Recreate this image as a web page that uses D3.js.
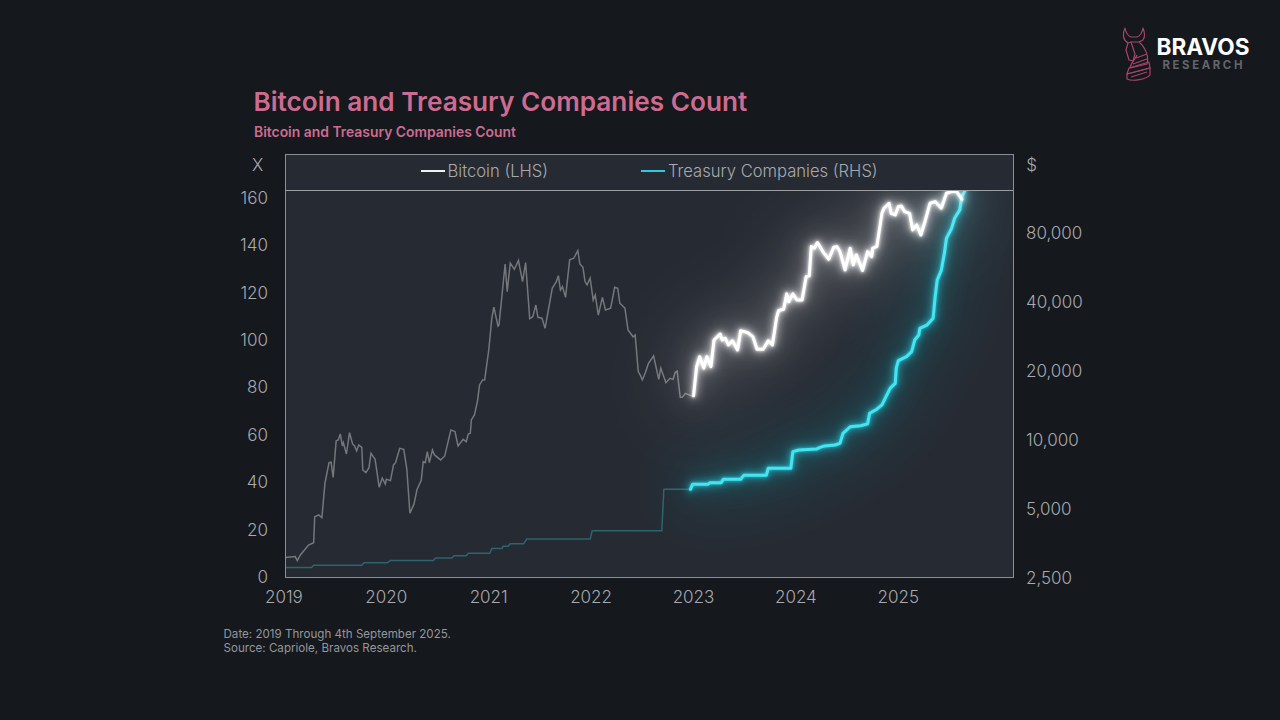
<!DOCTYPE html>
<html><head><meta charset="utf-8">
<script src="https://cdn.jsdelivr.net/npm/d3@7/dist/d3.min.js"></script>
<style>
html,body{margin:0;padding:0;background:#15181d;}
svg{display:block;}
text{font-family:Inter,"Noto Sans",sans-serif;}
</style></head><body>
<svg id="c" width="1280" height="720"></svg>
<script>
const titleText = "Bitcoin and Treasury Companies Count";
const subtitleText = "Bitcoin and Treasury Companies Count";
const footerLines = ["Date: 2019 Through 4th September 2025.", "Source: Capriole, Bravos Research."];
const legendNames = ["Bitcoin (LHS)", "Treasury Companies (RHS)"];
const yearTicks = [2019,2020,2021,2022,2023,2024,2025];
const leftTicks = [0,20,40,60,80,100,120,140,160];
const rightTicks = [2500,5000,10000,20000,40000,80000];
const highlightFrom = 2022.98;

const btcYears = [2019.00,2019.10,2019.12,2019.15,2019.23,2019.28,2019.29,2019.33,2019.36,2019.39,2019.43,2019.45,2019.47,2019.50,2019.52,2019.54,2019.56,2019.57,2019.60,2019.63,2019.66,2019.68,2019.70,2019.72,2019.75,2019.76,2019.79,2019.82,2019.84,2019.88,2019.92,2019.95,2019.98,2019.99,2020.03,2020.06,2020.08,2020.12,2020.16,2020.19,2020.22,2020.26,2020.29,2020.33,2020.35,2020.37,2020.39,2020.41,2020.44,2020.46,2020.52,2020.56,2020.62,2020.66,2020.69,2020.74,2020.77,2020.79,2020.81,2020.82,2020.85,2020.88,2020.90,2020.93,2020.95,2020.99,2021.02,2021.04,2021.08,2021.09,2021.15,2021.17,2021.20,2021.24,2021.28,2021.32,2021.35,2021.39,2021.42,2021.45,2021.47,2021.51,2021.54,2021.61,2021.65,2021.67,2021.69,2021.71,2021.74,2021.78,2021.82,2021.86,2021.88,2021.91,2021.93,2021.95,2021.98,2022.01,2022.03,2022.06,2022.10,2022.13,2022.18,2022.22,2022.25,2022.27,2022.32,2022.35,2022.40,2022.42,2022.45,2022.47,2022.49,2022.52,2022.55,2022.60,2022.65,2022.67,2022.72,2022.76,2022.79,2022.81,2022.83,2022.86,2022.88,2022.91,2022.97,2022.99,2023.02,2023.05,2023.09,2023.12,2023.16,2023.19,2023.25,2023.27,2023.30,2023.33,2023.37,2023.42,2023.45,2023.52,2023.57,2023.61,2023.67,2023.72,2023.76,2023.80,2023.82,2023.87,2023.90,2023.92,2023.96,2024.00,2024.05,2024.09,2024.12,2024.14,2024.17,2024.20,2024.26,2024.31,2024.36,2024.39,2024.42,2024.47,2024.52,2024.55,2024.58,2024.64,2024.69,2024.73,2024.74,2024.78,2024.83,2024.85,2024.90,2024.92,2024.96,2024.99,2025.02,2025.05,2025.10,2025.13,2025.17,2025.21,2025.25,2025.30,2025.35,2025.41,2025.46,2025.51,2025.56,2025.61];
const btcPrices = [3040,3070,2950,3120,3450,3530,4590,4670,4540,6420,7910,7950,6820,9870,9940,10560,9360,9680,8630,10700,9550,9360,8900,9460,9230,7350,7150,7520,8690,8180,6170,6760,6380,6690,6600,7730,7910,9140,9050,7400,4750,5220,6050,6600,7990,7910,8830,7910,8990,8550,8130,8460,11000,10810,9360,10000,9770,10560,10630,12160,12790,14720,17300,18200,18200,24600,33900,37900,31300,31700,58500,44300,59000,55500,60600,49000,59300,33700,34400,38700,34200,33900,30600,45800,49000,52000,45000,46600,41800,61000,62000,67000,58500,56600,49000,47400,50700,40700,42800,35000,41800,36800,37500,46300,45800,39400,37500,30100,28100,28600,19800,19100,18200,19600,21500,23200,18300,20500,17700,18500,18300,19600,19900,15300,15300,15900,15500,15500,20800,23000,20500,23000,20800,27200,28900,27200,27700,25900,27000,24600,29900,29300,28100,24800,24800,27000,25900,33900,36600,37100,43300,40000,43300,40700,40700,51500,51900,69700,68600,72600,65600,61400,69300,69700,66300,55100,68600,58000,64100,54800,66300,63000,68600,69700,97500,102600,107900,97500,95900,104300,105000,99200,97500,82500,86700,78400,89700,107900,109700,102600,119300,121300,121300,112300];

const tcYears = [2019.01,2019.26,2019.28,2019.75,2019.77,2020.00,2020.03,2020.45,2020.47,2020.63,2020.65,2020.77,2020.79,2021.00,2021.02,2021.12,2021.13,2021.18,2021.20,2021.33,2021.36,2021.98,2022.00,2022.68,2022.70,2022.96,2022.98,2023.13,2023.15,2023.26,2023.28,2023.45,2023.48,2023.70,2023.72,2023.94,2023.96,2024.02,2024.19,2024.22,2024.27,2024.37,2024.42,2024.45,2024.52,2024.62,2024.69,2024.71,2024.78,2024.83,2024.91,2024.96,2024.97,2024.99,2025.07,2025.12,2025.15,2025.19,2025.20,2025.27,2025.33,2025.35,2025.37,2025.41,2025.44,2025.46,2025.51,2025.54,2025.59,2025.61,2025.64];
const tcCounts = [4,4,5,5,6,6,7,7,8,8,9,9,10,10,12,12,13,13,14,14,16,16,19.5,19.5,37,37,39.1,39.1,39.8,39.8,41.2,41.2,42.9,42.9,45.9,45.9,52.9,53.6,54,54.6,55.3,55.7,56.4,60.6,63.4,63.8,64.6,69.1,70.8,72.6,79.6,81.7,88.1,91.3,93,95.1,100,102.1,104.9,106.3,109.2,118.3,125.3,129.5,136.6,142.9,147.1,151.4,154.9,160.5,163];

const pageW = 1280, pageH = 720;
const box = {l:285, r:1013, t:154, strip:190, b:577};
const svg = d3.select("#c");
const defs = svg.append("defs");

const x = d3.scaleLinear().domain([2019, 2026.11]).range([box.l, box.r]);
const yL = d3.scaleLinear().domain([0, 163.3]).range([box.b, box.strip]);
const yR = d3.scaleLog().base(2).domain([2500, 123300]).range([box.b, box.strip]);

function blur(id, sd){
  defs.append("filter").attr("id", id).attr("filterUnits","userSpaceOnUse")
    .attr("x",0).attr("y",0).attr("width",pageW).attr("height",pageH)
    .append("feGaussianBlur").attr("stdDeviation", sd);
}
blur("b40",34); blur("b14",12); blur("b4",4.5); blur("b1",1.6);
defs.append("clipPath").attr("id","plot").append("rect")
  .attr("x",box.l).attr("y",box.strip).attr("width",box.r-box.l).attr("height",box.b-box.strip);

svg.append("rect").attr("x",box.l).attr("y",box.t).attr("width",box.r-box.l).attr("height",box.b-box.t)
  .attr("fill","#262a32");

const btc = btcYears.map((t,i)=>({t, v:btcPrices[i]}));
const tc = tcYears.map((t,i)=>({t, v:tcCounts[i]}));
const lineB = d3.line().x(d=>x(d.t)).y(d=>yR(d.v));
const lineT = d3.line().x(d=>x(d.t)).y(d=>yL(d.v));

const plot = svg.append("g").attr("clip-path","url(#plot)");
plot.append("path").attr("d",lineT(tc.filter(d=>d.t<=highlightFrom))).attr("fill","none")
  .attr("stroke","#2d646e").attr("stroke-width",1.5);
plot.append("path").attr("d",lineB(btc.filter(d=>d.t<=highlightFrom+0.01))).attr("fill","none")
  .attr("stroke","#74777c").attr("stroke-width",1.5);

function glowLine(path, base, core, w){
  const layers = [
    {f:"b40", w:30, o:0.20, c:base},
    {f:"b14", w:9, o:0.30, c:base},
    {f:"b4", w:6, o:0.62, c:base},
    {f:"b1", w:3.6, o:0.8, c:base},
    {f:null, w:w, o:1, c:core}
  ];
  layers.forEach(l=>{
    const p = plot.append("path").attr("d",path).attr("fill","none")
      .attr("stroke",l.c).attr("stroke-width",l.w).attr("stroke-opacity",l.o)
      .attr("stroke-linejoin","round").attr("stroke-linecap","round");
    if(l.f) p.attr("filter","url(#"+l.f+")");
  });
}
glowLine(lineT(tc.filter(d=>d.t>=highlightFrom-0.02)), "#22c8dc", "#45e4f0", 3);
glowLine(lineB(btc.filter(d=>d.t>=highlightFrom)), "#ffffff", "#ffffff", 3);

svg.append("rect").attr("x",box.l+.5).attr("y",box.t+.5).attr("width",box.r-box.l).attr("height",box.b-box.t)
  .attr("fill","none").attr("stroke","#8b8e94").attr("stroke-width",1);
svg.append("line").attr("x1",box.l).attr("x2",box.r).attr("y1",box.strip+.5).attr("y2",box.strip+.5)
  .attr("stroke","#9b9ea3").attr("stroke-width",1);

const tickCol = "#a8aaad";
function styleAxis(g){
  g.select(".domain").remove();
  g.selectAll("line").remove();
  g.selectAll("text").attr("fill",tickCol).style("font-size","17px").style("font-weight",300)
    .style("font-family","Inter,'Noto Sans',sans-serif");
}
svg.append("g").attr("transform",`translate(${box.l},0)`)
  .call(d3.axisLeft(yL).tickValues(leftTicks).tickSize(0).tickPadding(17)).call(styleAxis);
svg.append("g").attr("transform",`translate(${box.r},0.6)`)
  .call(d3.axisRight(yR).tickValues(rightTicks).tickFormat(d3.format(",")).tickSize(0).tickPadding(13)).call(styleAxis);
svg.append("g").attr("transform",`translate(-1.6,${box.b})`)
  .call(d3.axisBottom(x).tickValues(yearTicks).tickFormat(d3.format("d")).tickSize(0).tickPadding(14)).call(styleAxis);

svg.append("text").attr("x",257.5).attr("y",171).attr("text-anchor","middle").attr("fill",tickCol).style("font-size","17px").style("font-weight",300).text("X");
svg.append("text").attr("x",1031.5).attr("y",171).attr("text-anchor","middle").attr("fill",tickCol).style("font-size","17px").style("font-weight",300).text("$");

const lg = [{x1:421,x2:445,tx:447.5,c:"#eef0f2"},{x1:641,x2:665,tx:668,c:"#2ccbdc"}];
lg.forEach((l,i)=>{
  svg.append("line").attr("x1",l.x1).attr("x2",l.x2).attr("y1",171).attr("y2",171).attr("stroke",l.c).attr("stroke-width",2);
  svg.append("text").attr("x",l.tx).attr("y",176.5).attr("fill",tickCol).style("font-size","16.6px").style("font-weight",300).text(legendNames[i]);
});

svg.append("text").attr("x",253.5).attr("y",110.5).attr("fill","#cc6c90").style("font-size","26.2px").style("font-weight",600).text(titleText);
svg.append("text").attr("x",254).attr("y",136.5).attr("fill","#cc6c90").style("font-size","13.9px").style("font-weight",600).text(subtitleText);
footerLines.forEach((s,i)=>{
  svg.append("text").attr("x",223.5).attr("y",638+i*14.3).attr("fill","#94979b").style("font-size","11.6px").style("font-weight",400).text(s);
});

svg.append("text").attr("x",1156.5).attr("y",54.5).attr("fill","#ffffff").style("font-size","22.6px").style("font-weight",700).text("BRAVOS");
svg.append("text").attr("x",1162.5).attr("y",68.5).attr("fill","#63666b").style("font-size","11.4px").style("font-weight",700).style("letter-spacing","2.6px").text("RESEARCH");
const logo = svg.append("g").attr("fill","none").attr("stroke","#a8456a").attr("stroke-width",1.2).attr("stroke-linejoin","round");
[
 "M1125 28 C1122 34 1123 40 1128 43 L1131 42 L1139 42 L1143 40 C1145 37 1145 33 1143 28 C1142 33 1140 36 1137 37 L1131 37 C1128 36 1126 33 1125 28 Z",
 "M1128 43 L1126 50 L1129 60 L1133 61 L1135 54 L1131 42",
 "M1139 42 C1146 48 1149 57 1147 64 L1130 68 C1131 62 1135 60 1137 55",
 "M1129 68 L1149 62 L1150 68 L1127 74 Z",
 "M1127 74 L1150 68 L1150 75 C1147 79 1133 82 1127 79 Z",
 "M1131 77 L1147 72 M1133 64 L1147 59 M1136 58 L1147 54"
].forEach(d=>logo.append("path").attr("d",d));
</script>
</body></html>
